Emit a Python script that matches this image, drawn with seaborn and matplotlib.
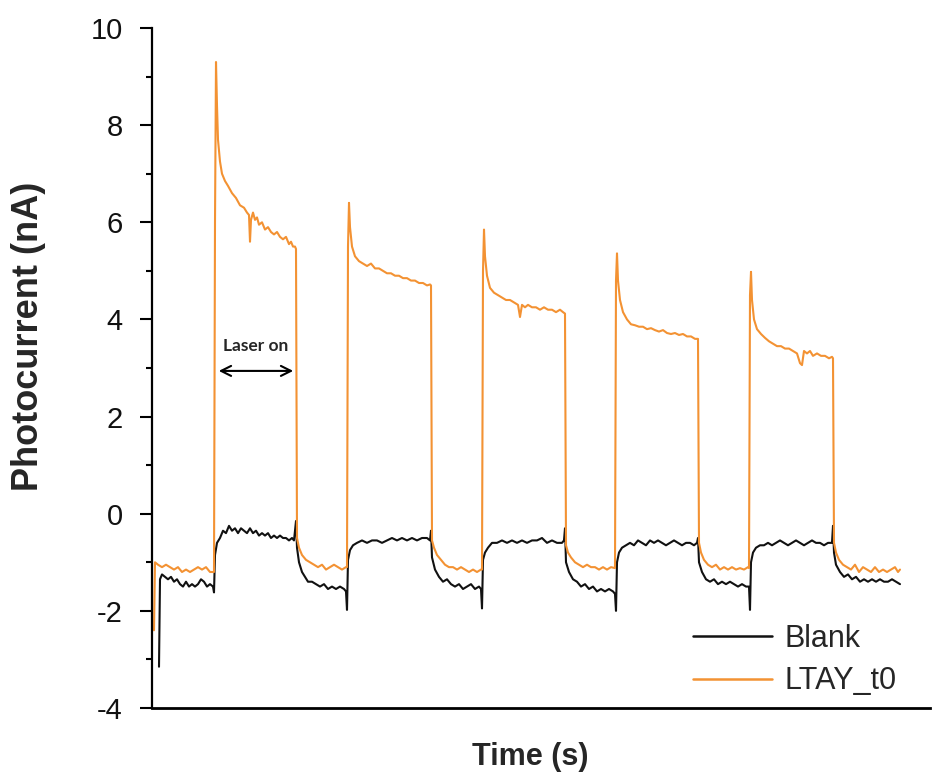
import numpy as np
import pandas as pd
import matplotlib
matplotlib.use("Agg")
import matplotlib.pyplot as plt
import seaborn as sns

# ---------------- data (time in s, photocurrent in nA) ----------------
blank_t = [7, 8, 10, 13, 16, 19, 22, 25, 28, 31, 34, 37, 40, 43, 46, 49, 52, 55, 58, 61, 62,
           63, 65, 68, 71, 74, 77, 80, 83, 86, 89, 92, 95, 98, 101, 104, 107, 110, 113, 116, 119,
           122, 125, 128, 131, 134, 137, 140, 142, 143, 144,
           145, 147, 150, 153, 156, 160, 164, 168, 172, 176, 180, 184, 188, 192, 194, 195,
           196, 198, 201, 205, 210, 215, 220, 225, 230, 235, 240, 245, 250, 255, 260, 265, 270,
           275, 278, 279,
           280, 283, 287, 291, 295, 299, 303, 307, 311, 315, 319, 323, 327, 329, 330,
           331, 333, 336, 340, 345, 350, 355, 360, 365, 370, 375, 380, 385, 390, 395, 400, 405,
           410, 412, 413,
           414, 417, 421, 425, 429, 433, 437, 441, 445, 449, 453, 457, 461, 463, 464,
           465, 467, 470, 474, 478, 482, 486, 490, 494, 498, 502, 506, 510, 514, 518, 522, 526,
           530, 534, 538, 542, 545, 546,
           547, 550, 554, 558, 562, 566, 570, 574, 578, 582, 586, 590, 594, 597, 598,
           599, 601, 604, 608, 612, 616, 620, 624, 628, 632, 636, 640, 644, 648, 652, 656, 660,
           664, 668, 672, 676, 680, 681,
           682, 684, 688, 692, 696, 700, 704, 708, 712, 716, 720, 724, 728, 732, 736, 740, 744, 748]
blank_i = [-3.15, -1.35, -1.25, -1.3, -1.35, -1.3, -1.4, -1.35, -1.45, -1.5, -1.4, -1.5, -1.45,
           -1.5, -1.45, -1.35, -1.4, -1.5, -1.45, -1.5, -1.62,
           -0.85, -0.6, -0.5, -0.35, -0.4, -0.25, -0.35, -0.3, -0.4, -0.3, -0.35, -0.4, -0.3,
           -0.4, -0.35, -0.45, -0.4, -0.45, -0.4, -0.5, -0.45, -0.5, -0.45, -0.5, -0.5, -0.55,
           -0.5, -0.55, -0.35, -0.15,
           -0.7, -1.0, -1.2, -1.3, -1.4, -1.4, -1.45, -1.5, -1.45, -1.55, -1.5, -1.55, -1.5,
           -1.55, -1.6, -1.98,
           -0.95, -0.75, -0.65, -0.6, -0.55, -0.6, -0.55, -0.55, -0.6, -0.55, -0.5, -0.55, -0.5,
           -0.55, -0.5, -0.55, -0.5, -0.5, -0.55, -0.35,
           -0.9, -1.15, -1.3, -1.4, -1.35, -1.45, -1.5, -1.45, -1.55, -1.5, -1.45, -1.55, -1.5,
           -1.55, -1.95,
           -0.95, -0.8, -0.7, -0.6, -0.6, -0.55, -0.6, -0.55, -0.6, -0.55, -0.6, -0.55, -0.55,
           -0.5, -0.6, -0.55, -0.6, -0.6, -0.55, -0.3,
           -1.0, -1.2, -1.35, -1.4, -1.5, -1.45, -1.55, -1.5, -1.6, -1.55, -1.6, -1.55, -1.6,
           -1.65, -2.0,
           -1.0, -0.8, -0.7, -0.65, -0.6, -0.65, -0.55, -0.6, -0.65, -0.55, -0.6, -0.55, -0.6,
           -0.65, -0.6, -0.55, -0.6, -0.65, -0.6, -0.6, -0.65, -0.6, -0.5,
           -1.0, -1.2, -1.35, -1.4, -1.35, -1.45, -1.4, -1.45, -1.4, -1.45, -1.5, -1.45, -1.5,
           -1.5, -1.98,
           -1.0, -0.8, -0.7, -0.65, -0.65, -0.6, -0.65, -0.6, -0.55, -0.6, -0.65, -0.6, -0.55,
           -0.6, -0.65, -0.6, -0.55, -0.6, -0.6, -0.65, -0.6, -0.6, -0.25,
           -0.8, -1.05, -1.2, -1.3, -1.25, -1.35, -1.3, -1.4, -1.35, -1.4, -1.35, -1.4, -1.35,
           -1.4, -1.4, -1.35, -1.4, -1.45]

ltay_t = [2, 3, 6, 10, 14, 18, 22, 26, 30, 34, 38, 42, 46, 50, 54, 58, 62,
          63, 64, 65, 66, 68, 70, 73, 76, 80, 84, 88, 92, 95, 97, 98, 99, 101, 103, 105, 107,
          110, 113, 116, 119, 122, 125, 128, 131, 134, 137, 139, 141, 143, 144,
          145, 147, 150, 154, 158, 162, 166, 170, 174, 178, 182, 186, 190, 194, 195,
          196, 197, 198, 200, 203, 207, 211, 215, 219, 223, 227, 231, 235, 239, 243, 247, 251,
          255, 259, 263, 267, 271, 275, 278, 279,
          280, 282, 285, 289, 293, 297, 301, 305, 309, 313, 317, 321, 325, 329, 330,
          331, 332, 333, 335, 338, 342, 346, 350, 354, 358, 362, 366, 368, 370, 373, 376, 380,
          384, 388, 392, 396, 400, 404, 408, 411, 413,
          414, 416, 419, 423, 427, 431, 435, 439, 443, 447, 451, 455, 459, 463,
          464, 465, 466, 468, 471, 475, 479, 483, 487, 491, 495, 499, 503, 507, 511, 515, 519,
          523, 527, 531, 535, 539, 543, 546,
          547, 549, 552, 556, 560, 564, 568, 572, 576, 580, 584, 588, 592, 596, 597,
          598, 599, 600, 602, 605, 609, 613, 617, 621, 625, 629, 633, 637, 641, 645, 648, 650,
          652, 655, 658, 661, 665, 669, 673, 677, 680, 681,
          682, 684, 687, 691, 695, 699, 703, 707, 711, 715, 719, 723, 727, 731, 735, 739, 743,
          746, 748]
ltay_i = [-2.4, -1.0, -1.05, -1.1, -1.05, -1.1, -1.15, -1.1, -1.2, -1.15, -1.2, -1.15, -1.1,
          -1.15, -1.1, -1.2, -1.2,
          6.0, 9.3, 8.4, 7.7, 7.25, 7.0, 6.85, 6.75, 6.6, 6.5, 6.35, 6.3, 6.2, 6.15, 5.6, 6.05,
          6.2, 6.05, 6.1, 5.95, 6.0, 5.85, 5.9, 5.8, 5.75, 5.8, 5.7, 5.65, 5.7, 5.55, 5.6, 5.5,
          5.5, 5.45,
          -0.5, -0.7, -0.85, -0.95, -1.0, -1.05, -1.1, -1.05, -1.15, -1.1, -1.05, -1.1, -1.15,
          -1.1, -1.1,
          5.5, 6.4, 5.9, 5.5, 5.3, 5.2, 5.15, 5.1, 5.15, 5.05, 5.05, 5.0, 4.95, 4.95, 4.9, 4.9,
          4.85, 4.85, 4.8, 4.8, 4.75, 4.75, 4.7, 4.72, 4.7,
          -0.55, -0.7, -0.85, -0.95, -1.05, -1.1, -1.1, -1.15, -1.1, -1.15, -1.2, -1.15, -1.2,
          -1.15, -1.15,
          5.0, 5.85, 5.3, 4.9, 4.65, 4.55, 4.5, 4.45, 4.4, 4.4, 4.35, 4.3, 4.05, 4.3, 4.25, 4.3,
          4.25, 4.25, 4.2, 4.25, 4.2, 4.2, 4.15, 4.2, 4.15, 4.12,
          -0.65, -0.8, -0.9, -1.0, -1.05, -1.1, -1.05, -1.1, -1.1, -1.15, -1.1, -1.15, -1.1,
          -1.12,
          4.8, 5.36, 4.8, 4.4, 4.15, 4.0, 3.9, 3.88, 3.85, 3.85, 3.8, 3.82, 3.78, 3.75, 3.78,
          3.72, 3.7, 3.72, 3.68, 3.7, 3.65, 3.65, 3.6, 3.6,
          -0.6, -0.8, -0.95, -1.05, -1.1, -1.05, -1.15, -1.1, -1.15, -1.1, -1.15, -1.12, -1.15,
          -1.1, -1.12,
          4.5, 4.98, 4.4, 4.0, 3.8, 3.7, 3.62, 3.55, 3.5, 3.45, 3.45, 3.4, 3.4, 3.35, 3.3, 3.1,
          3.06, 3.35, 3.3, 3.35, 3.25, 3.3, 3.25, 3.25, 3.2, 3.23, 3.2,
          -0.6, -0.8, -0.95, -1.05, -1.1, -1.15, -1.05, -1.2, -1.1, -1.15, -1.2, -1.1, -1.2,
          -1.15, -1.2, -1.15, -1.1, -1.2, -1.15]

series_names = ["Blank", "LTAY_t0"]
series_colors = ["#111111", "#F39233"]
y_ticks = [-4, -2, 0, 2, 4, 6, 8, 10]
laser_on_start, laser_on_end, laser_arrow_y = 64, 144, 2.94

# ---------------- plot ----------------
sns.set_theme(style="white")
plt.rcParams['font.family'] = ['Liberation Sans', 'DejaVu Sans']

fig = plt.figure(figsize=(9.32, 7.78), dpi=100)
ax = fig.add_axes([152 / 932, 70 / 778, 778 / 932, 680 / 778])

df_blank = pd.DataFrame({"t": blank_t, "i": blank_i})
df_ltay = pd.DataFrame({"t": ltay_t, "i": ltay_i})
sns.lineplot(data=df_blank, x="t", y="i", ax=ax, color=series_colors[0], lw=1.5,
             estimator=None, sort=False, label=series_names[0])
sns.lineplot(data=df_ltay, x="t", y="i", ax=ax, color=series_colors[1], lw=1.5,
             estimator=None, sort=False, label=series_names[1])

ax.set_xlim(0, 778)
ax.set_ylim(-4, 10)
ax.set_yticks(y_ticks)
ax.set_yticklabels([str(v) for v in y_ticks], fontsize=21, color="#111111")
ax.set_yticks(np.arange(-3, 10, 2), minor=True)
ax.tick_params(axis="y", which="major", direction="out", length=9, width=1.5,
               color="black", left=True, pad=12)
ax.tick_params(axis="y", which="minor", direction="out", length=4.5, width=1.5,
               color="black", left=True)
ax.set_xticks([])

for s in ["top", "right"]:
    ax.spines[s].set_visible(False)
ax.spines["left"].set_linewidth(1.6)
ax.spines["bottom"].set_linewidth(2.0)
ax.spines["left"].set_color("black")
ax.spines["bottom"].set_color("black")

ax.set_xlabel("Time (s)", fontsize=22, fontweight="bold", va="center")
ax.xaxis.set_label_coords(0.486, -0.072)
ax.set_ylabel("Photocurrent (nA)", fontsize=26, fontweight="bold", va="center")
ax.yaxis.set_label_coords(-0.159, 0.547)

ax.annotate("", xy=(laser_on_start, laser_arrow_y), xytext=(laser_on_end, laser_arrow_y),
            arrowprops=dict(arrowstyle="<->", color="black", lw=1.5, mutation_scale=18))
ax.text((laser_on_start + laser_on_end) / 2, laser_arrow_y + 0.35, "Laser on",
        fontsize=12.5, fontweight="bold", ha="center", va="bottom",
        family=["Lato", "DejaVu Sans"])

leg = ax.legend(loc="upper left", bbox_to_anchor=(693 / 932, 1 - 624 / 778),
                bbox_transform=fig.transFigure, frameon=False, borderpad=0,
                borderaxespad=0, fontsize=22, handlelength=2.6, handletextpad=0.4,
                labelspacing=0.4)
for line in leg.get_lines():
    line.set_linewidth(1.8)

fig.savefig("out.png", dpi=100)
